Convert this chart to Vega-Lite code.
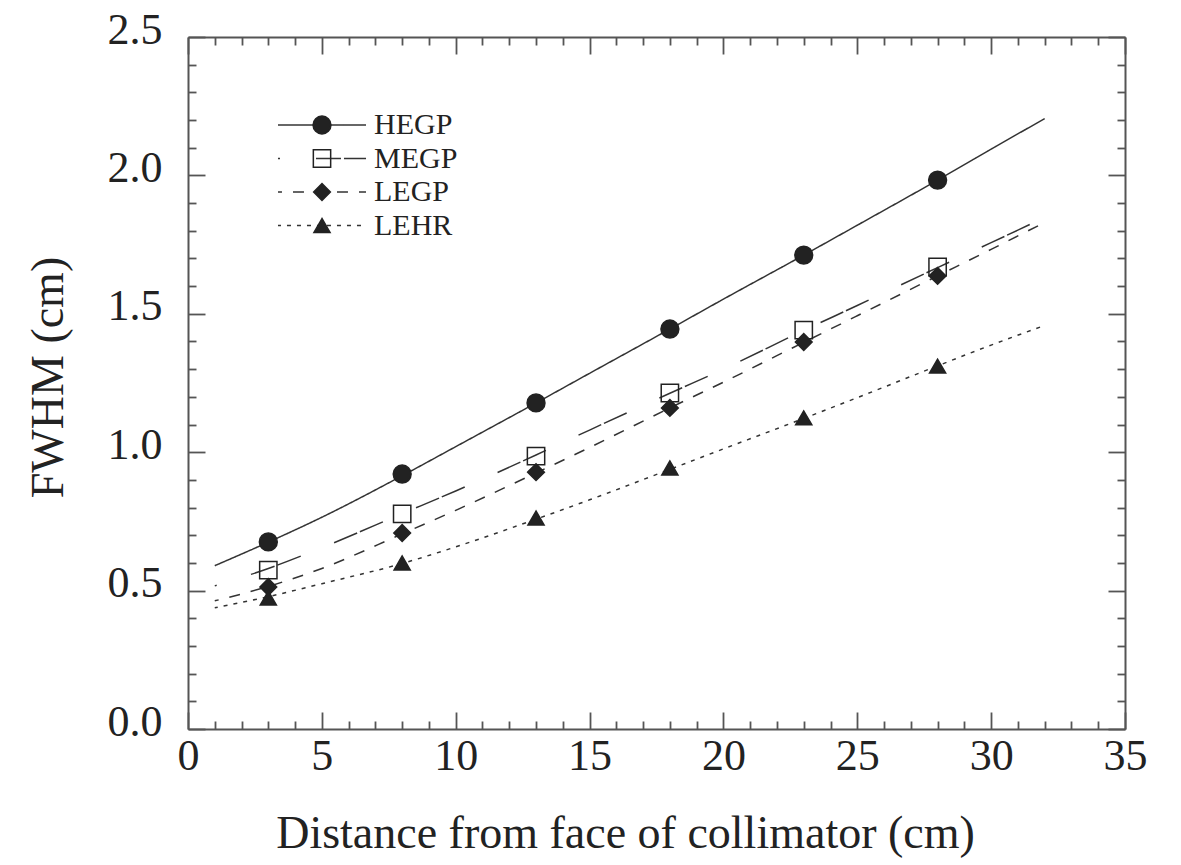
{
  "$schema": "https://vega.github.io/schema/vega-lite/v6.json",
  "autosize": {"type": "none"},
  "width": 937,
  "height": 692,
  "padding": {"left": 188, "top": 37, "right": 56, "bottom": 136},
  "background": "white",
  "config": {
    "view": {"stroke": null},
    "axis": {
      "grid": false,
      "domainColor": "#555",
      "domainWidth": 2,
      "tickColor": "#555",
      "tickWidth": 1.8,
      "labelFont": "Liberation Serif",
      "labelFontSize": 44,
      "labelColor": "#222",
      "titleFont": "Liberation Serif",
      "titleFontSize": 46,
      "titleFontWeight": "normal",
      "titleColor": "#222"
    },
    "legend": {"padding": 0, "titlePadding": 0}
  },
  "datasets": {
    "curves": [
      {"curve": "HEGP", "x": 1, "y": 0.59}, {"curve": "HEGP", "x": 3, "y": 0.675}, {"curve": "HEGP", "x": 5, "y": 0.765},
      {"curve": "HEGP", "x": 8, "y": 0.915}, {"curve": "HEGP", "x": 10, "y": 1.02}, {"curve": "HEGP", "x": 13, "y": 1.178},
      {"curve": "HEGP", "x": 15, "y": 1.285}, {"curve": "HEGP", "x": 18, "y": 1.445}, {"curve": "HEGP", "x": 20, "y": 1.553},
      {"curve": "HEGP", "x": 23, "y": 1.712}, {"curve": "HEGP", "x": 25, "y": 1.82}, {"curve": "HEGP", "x": 28, "y": 1.983},
      {"curve": "HEGP", "x": 30, "y": 2.095}, {"curve": "HEGP", "x": 32, "y": 2.205},
      {"curve": "MEGP", "x": 1, "y": 0.517}, {"curve": "MEGP", "x": 3, "y": 0.58}, {"curve": "MEGP", "x": 5, "y": 0.655},
      {"curve": "MEGP", "x": 8, "y": 0.778}, {"curve": "MEGP", "x": 10, "y": 0.86}, {"curve": "MEGP", "x": 13, "y": 0.99},
      {"curve": "MEGP", "x": 15, "y": 1.08}, {"curve": "MEGP", "x": 18, "y": 1.213}, {"curve": "MEGP", "x": 20, "y": 1.3},
      {"curve": "MEGP", "x": 23, "y": 1.44}, {"curve": "MEGP", "x": 25, "y": 1.53}, {"curve": "MEGP", "x": 28, "y": 1.667},
      {"curve": "MEGP", "x": 30, "y": 1.757}, {"curve": "MEGP", "x": 32, "y": 1.848},
      {"curve": "LEGP", "x": 1, "y": 0.463}, {"curve": "LEGP", "x": 3, "y": 0.515}, {"curve": "LEGP", "x": 5, "y": 0.58},
      {"curve": "LEGP", "x": 8, "y": 0.705}, {"curve": "LEGP", "x": 10, "y": 0.79}, {"curve": "LEGP", "x": 13, "y": 0.925},
      {"curve": "LEGP", "x": 15, "y": 1.017}, {"curve": "LEGP", "x": 18, "y": 1.16}, {"curve": "LEGP", "x": 20, "y": 1.253},
      {"curve": "LEGP", "x": 23, "y": 1.397}, {"curve": "LEGP", "x": 25, "y": 1.493}, {"curve": "LEGP", "x": 28, "y": 1.637},
      {"curve": "LEGP", "x": 30, "y": 1.733}, {"curve": "LEGP", "x": 32, "y": 1.83},
      {"curve": "LEHR", "x": 1, "y": 0.438}, {"curve": "LEHR", "x": 3, "y": 0.478}, {"curve": "LEHR", "x": 5, "y": 0.525},
      {"curve": "LEHR", "x": 8, "y": 0.598}, {"curve": "LEHR", "x": 10, "y": 0.658}, {"curve": "LEHR", "x": 13, "y": 0.758},
      {"curve": "LEHR", "x": 15, "y": 0.828}, {"curve": "LEHR", "x": 18, "y": 0.938}, {"curve": "LEHR", "x": 20, "y": 1.012},
      {"curve": "LEHR", "x": 23, "y": 1.122}, {"curve": "LEHR", "x": 25, "y": 1.197}, {"curve": "LEHR", "x": 28, "y": 1.312},
      {"curve": "LEHR", "x": 30, "y": 1.387}, {"curve": "LEHR", "x": 32, "y": 1.458}
    ],
    "points": [
      {"series": "HEGP", "x": 3, "y": 0.676}, {"series": "HEGP", "x": 8, "y": 0.921}, {"series": "HEGP", "x": 13, "y": 1.178},
      {"series": "HEGP", "x": 18, "y": 1.445}, {"series": "HEGP", "x": 23, "y": 1.712}, {"series": "HEGP", "x": 28, "y": 1.983},
      {"series": "MEGP", "x": 3, "y": 0.574}, {"series": "MEGP", "x": 8, "y": 0.777}, {"series": "MEGP", "x": 13, "y": 0.986},
      {"series": "MEGP", "x": 18, "y": 1.214}, {"series": "MEGP", "x": 23, "y": 1.441}, {"series": "MEGP", "x": 28, "y": 1.669},
      {"series": "LEGP", "x": 3, "y": 0.513}, {"series": "LEGP", "x": 8, "y": 0.708}, {"series": "LEGP", "x": 13, "y": 0.928},
      {"series": "LEGP", "x": 18, "y": 1.16}, {"series": "LEGP", "x": 23, "y": 1.398}, {"series": "LEGP", "x": 28, "y": 1.637},
      {"series": "LEHR", "x": 3, "y": 0.473}, {"series": "LEHR", "x": 8, "y": 0.6}, {"series": "LEHR", "x": 13, "y": 0.762},
      {"series": "LEHR", "x": 18, "y": 0.943}, {"series": "LEHR", "x": 23, "y": 1.124}, {"series": "LEHR", "x": 28, "y": 1.311}
    ]
  },
  "resolve": {"axis": {"x": "independent", "y": "independent"}},
  "layer": [
    {
      "data": {"name": "curves"},
      "mark": {"type": "line", "interpolate": "monotone", "color": "#333", "strokeWidth": 1.5, "strokeDashOffset": 51},
      "encoding": {
        "x": {
          "field": "x", "type": "quantitative",
          "scale": {"domain": [0, 35], "nice": false},
          "axis": {
            "orient": "bottom", "values": [0, 5, 10, 15, 20, 25, 30, 35],
            "tickSize": -17, "labelPadding": 22,
            "title": "Distance from face of collimator (cm)",
            "titleX": 437, "titleY": 118, "titleAlign": "center", "titleBaseline": "alphabetic",
            "labelFlush": false, "labelOverlap": false
          }
        },
        "y": {
          "field": "y", "type": "quantitative",
          "scale": {"domain": [0, 2.5], "nice": false},
          "axis": {
            "orient": "left", "values": [0, 0.5, 1, 1.5, 2, 2.5], "format": ".1f",
            "tickSize": -17, "labelPadding": 43, "labelOffset": -7,
            "title": "FWHM (cm)",
            "titleX": -126, "titleY": 340, "titleAngle": -90, "titleAlign": "center", "titleBaseline": "alphabetic",
            "labelFlush": false, "labelOverlap": false
          }
        },
        "strokeDash": {
          "field": "curve", "type": "nominal",
          "sort": ["HEGP", "MEGP", "LEGP", "LEHR"],
          "scale": {"range": [[1, 0], [25, 3, 25, 36], [11, 11], [4, 6]]},
          "legend": {
            "orient": "none", "legendX": 119, "legendY": 73, "title": null,
            "symbolType": "M-5,0H5", "symbolSize": 310, "symbolStrokeWidth": 1.5, "symbolStrokeColor": "#333",
            "symbolDashOffset": 51,
            "labelFont": "Liberation Serif", "labelFontSize": 30, "labelColor": "#222", "labelOffset": 37,
            "rowPadding": 3.5, "zindex": 1
          }
        }
      }
    },
    {
      "data": {"name": "points"},
      "mark": {"type": "point", "filled": true, "strokeWidth": 1.5, "opacity": 1},
      "encoding": {
        "x": {
          "field": "x", "type": "quantitative",
          "axis": {
            "orient": "bottom", "values": [1, 2, 3, 4, 6, 7, 8, 9, 11, 12, 13, 14, 16, 17, 18, 19, 21, 22, 23, 24, 26, 27, 28, 29, 31, 32, 33, 34],
            "tickSize": -8, "labels": false, "domain": false, "title": null
          }
        },
        "y": {
          "field": "y", "type": "quantitative",
          "axis": {
            "orient": "left", "values": [0.1, 0.2, 0.3, 0.4, 0.6, 0.7, 0.8, 0.9, 1.1, 1.2, 1.3, 1.4, 1.6, 1.7, 1.8, 1.9, 2.1, 2.2, 2.3, 2.4],
            "tickSize": -8, "labels": false, "domain": false, "title": null
          }
        },
        "shape": {
          "field": "series", "type": "nominal",
          "sort": {"field": "y", "op": "max", "order": "descending"},
          "scale": {"range": ["circle", "square", "diamond", "triangle-up"]},
          "legend": {
            "orient": "none", "legendX": 119, "legendY": 73, "title": null,
            "symbolStrokeWidth": 1.5,
            "labelFont": "Liberation Serif", "labelFontSize": 30, "labelOpacity": 0, "labelOffset": 10,
            "rowPadding": 3.5, "zindex": 2
          }
        },
        "fill": {
          "field": "series", "type": "nominal",
          "sort": {"field": "y", "op": "max", "order": "descending"},
          "scale": {"range": ["#222", "transparent", "#222", "#222"]},
          "legend": {
            "orient": "none", "legendX": 119, "legendY": 73, "title": null,
            "symbolStrokeWidth": 1.5,
            "labelFont": "Liberation Serif", "labelFontSize": 30, "labelOpacity": 0, "labelOffset": 10,
            "rowPadding": 3.5, "zindex": 2
          }
        },
        "stroke": {
          "field": "series", "type": "nominal",
          "sort": {"field": "y", "op": "max", "order": "descending"},
          "scale": {"range": ["#222", "#222", "#222", "#222"]},
          "legend": {
            "orient": "none", "legendX": 119, "legendY": 73, "title": null,
            "symbolStrokeWidth": 1.5,
            "labelFont": "Liberation Serif", "labelFontSize": 30, "labelOpacity": 0, "labelOffset": 10,
            "rowPadding": 3.5, "zindex": 2
          }
        },
        "size": {
          "field": "series", "type": "nominal",
          "sort": {"field": "y", "op": "max", "order": "descending"},
          "scale": {"range": [320, 260, 260, 300]},
          "legend": {
            "orient": "none", "legendX": 119, "legendY": 73, "title": null,
            "symbolStrokeWidth": 1.5,
            "labelFont": "Liberation Serif", "labelFontSize": 30, "labelOpacity": 0, "labelOffset": 10,
            "rowPadding": 3.5, "zindex": 2
          }
        }
      }
    },
    {
      "data": {"name": "points"},
      "mark": {"type": "point", "opacity": 0},
      "encoding": {
        "x": {
          "field": "x", "type": "quantitative",
          "axis": {"orient": "top", "values": [0, 5, 10, 15, 20, 25, 30, 35], "tickSize": -17, "labels": false, "title": null}
        },
        "y": {
          "field": "y", "type": "quantitative",
          "axis": {"orient": "right", "values": [0, 0.5, 1, 1.5, 2, 2.5], "tickSize": -17, "labels": false, "title": null}
        }
      }
    },
    {
      "data": {"name": "points"},
      "mark": {"type": "point", "opacity": 0},
      "encoding": {
        "x": {
          "field": "x", "type": "quantitative",
          "axis": {
            "orient": "top", "values": [1, 2, 3, 4, 6, 7, 8, 9, 11, 12, 13, 14, 16, 17, 18, 19, 21, 22, 23, 24, 26, 27, 28, 29, 31, 32, 33, 34],
            "tickSize": -8, "labels": false, "domain": false, "title": null
          }
        },
        "y": {
          "field": "y", "type": "quantitative",
          "axis": {
            "orient": "right", "values": [0.1, 0.2, 0.3, 0.4, 0.6, 0.7, 0.8, 0.9, 1.1, 1.2, 1.3, 1.4, 1.6, 1.7, 1.8, 1.9, 2.1, 2.2, 2.3, 2.4],
            "tickSize": -8, "labels": false, "domain": false, "title": null
          }
        }
      }
    }
  ]
}
